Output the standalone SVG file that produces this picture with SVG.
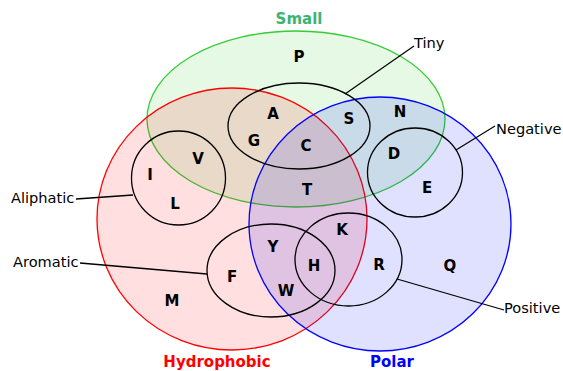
<svg xmlns="http://www.w3.org/2000/svg" width="563" height="371" viewBox="0 0 563 371">
<style>
.set{stroke-width:1.3}
.sub{fill:none;stroke:#000;stroke-width:1.3}
.lt{font-family:"DejaVu Sans",sans-serif;font-size:15px;font-weight:bold;text-anchor:middle;fill:#000}
.lab{font-family:"DejaVu Sans",sans-serif;font-size:14.6px;fill:#000}
.title{font-family:"DejaVu Sans",sans-serif;font-size:15px;font-weight:bold;text-anchor:middle}
.ln{stroke:#000;stroke-width:1.3;fill:none}
</style>
<rect width="563" height="371" fill="#fff"/>
<g id="small">
<ellipse cx="296" cy="119" rx="149" ry="88" fill="rgb(0,200,0)" fill-opacity="0.1" stroke="#33cc33" class="set"/>
<text class="title" x="299" y="24" fill="#3cb371">Small</text>
</g>
<g id="hydrophobic">
<ellipse cx="232" cy="219" rx="135" ry="131" fill="rgb(255,0,0)" fill-opacity="0.125" stroke="#ff0000" class="set"/>
<text class="title" x="217" y="367" fill="#ff0000">Hydrophobic</text>
</g>
<g id="polar">
<ellipse cx="380" cy="224" rx="131" ry="127" fill="rgb(0,0,255)" fill-opacity="0.12" stroke="#0000ff" class="set"/>
<text class="title" x="392" y="367" fill="#0000ff">Polar</text>
</g>
<g id="tiny"><ellipse class="sub" cx="299" cy="126" rx="71" ry="43"/><text class="lab" x="414" y="48">Tiny</text></g>
<g id="aliphatic"><ellipse class="sub" cx="178.5" cy="178" rx="47" ry="47"/><text class="lab" x="11" y="203">Aliphatic</text></g>
<g id="aromatic"><ellipse class="sub" cx="271" cy="270.5" rx="64" ry="46.5"/><text class="lab" x="13" y="267">Aromatic</text></g>
<g id="positive"><ellipse class="sub" cx="348.5" cy="259.5" rx="53.5" ry="46.5"/><text class="lab" x="504" y="313">Positive</text></g>
<g id="negative"><ellipse class="sub" cx="415" cy="172.5" rx="47.5" ry="44.5"/><text class="lab" x="496" y="134">Negative</text></g>
<g id="connectors">
<line class="ln" x1="345" y1="94" x2="414" y2="46"/>
<line class="ln" x1="456" y1="150" x2="495" y2="126"/>
<line class="ln" x1="76" y1="199" x2="133" y2="195"/>
<line class="ln" x1="80" y1="263" x2="207" y2="274"/>
<line class="ln" x1="397" y1="279" x2="504" y2="310"/>
</g>
<g id="letters">
<text class="lt" x="299" y="62">P</text>
<text class="lt" x="273" y="119">A</text>
<text class="lt" x="349" y="124">S</text>
<text class="lt" x="400" y="117">N</text>
<text class="lt" x="254" y="146">G</text>
<text class="lt" x="306" y="151">C</text>
<text class="lt" x="394" y="159">D</text>
<text class="lt" x="198" y="164">V</text>
<text class="lt" x="150" y="180">I</text>
<text class="lt" x="427" y="193">E</text>
<text class="lt" x="307" y="195">T</text>
<text class="lt" x="175" y="209">L</text>
<text class="lt" x="342" y="235">K</text>
<text class="lt" x="273" y="252">Y</text>
<text class="lt" x="314" y="271">H</text>
<text class="lt" x="379" y="270">R</text>
<text class="lt" x="450" y="271">Q</text>
<text class="lt" x="232" y="282">F</text>
<text class="lt" x="286" y="296">W</text>
<text class="lt" x="172" y="306">M</text>
</g>
</svg>
